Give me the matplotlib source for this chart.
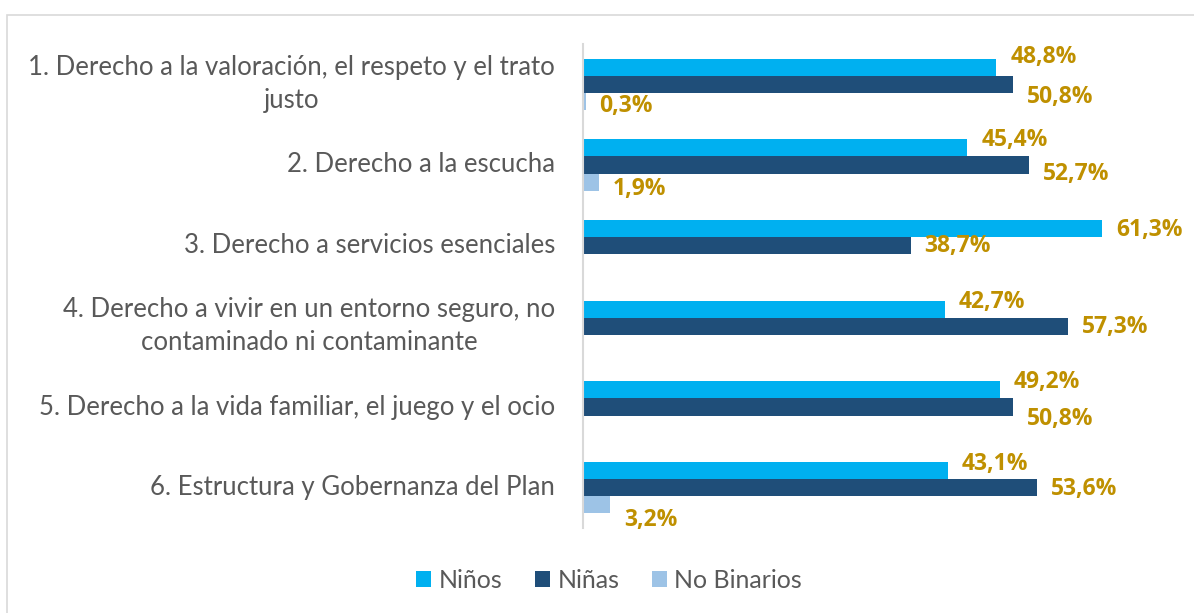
import matplotlib.pyplot as plt
import numpy as np
from matplotlib.patches import Rectangle

categories = [
    "1. Derecho a la valoración, el respeto y el trato\njusto",
    "2. Derecho a la escucha",
    "3. Derecho a servicios esenciales",
    "4. Derecho a vivir en un entorno seguro, no\ncontaminado ni contaminante",
    "5. Derecho a la vida familiar, el juego y el ocio",
    "6. Estructura y Gobernanza del Plan",
]
ninos = [48.8, 45.4, 61.3, 42.7, 49.2, 43.1]
ninas = [50.8, 52.7, 38.7, 57.3, 50.8, 53.6]
no_binarios = [0.3, 1.9, np.nan, np.nan, np.nan, 3.2]

series = [("Niños", ninos, "#00B0F0"),
          ("Niñas", ninas, "#1F4E79"),
          ("No Binarios", no_binarios, "#9DC3E6")]

# label placement: vertical nudge in pixels (down = +), one row per series
label_nudge = [
    [-10, -8, 1, -7, -8, -7],
    [13, 9, 0, 1, 12, 1],
    [5, 7, 0, 0, 0, 15],
]

plt.rcParams['font.family'] = ['Lato', 'DejaVu Sans']

fig = plt.figure(figsize=(11.94, 6.13), dpi=100)
ax = fig.add_axes([583 / 1194, 1 - 528 / 613, 597 / 1194, 484 / 613])

# light chart-area frame
fig.patches.append(Rectangle((7 / 1194, -0.1), 1.2, 1 - 15 / 613 + 0.1,
                             transform=fig.transFigure, fill=False,
                             edgecolor="#D9D9D9", linewidth=1.2))

y = np.arange(len(categories))
h = 0.211
label_color = "#BF9000"

for i, (name, vals, col) in enumerate(series):
    pos = y + (i - 1) * h
    ax.barh(pos, vals, height=h, color=col, label=name)
    for k, (p, v) in enumerate(zip(pos, vals)):
        if np.isnan(v):
            continue
        ax.annotate(f"{v:.1f}%".replace(".", ","), (v, p),
                    xytext=(10, -label_nudge[i][k] * 0.72),
                    textcoords="offset points",
                    ha="left", va="center", family=["Open Sans", "DejaVu Sans"],
                    fontsize=16.5, fontweight="bold", color=label_color)

ax.set_xlim(0, 70.5)
ax.set_ylim(len(categories) - 0.5, -0.5)
ax.set_yticks(y)
ax.set_yticklabels(categories, fontsize=18.5, color="#595959",
                   multialignment="center", linespacing=1.4)
ax.tick_params(axis="y", length=0, pad=20)
for t in ax.get_yticklabels():
    t.set_va("center")
ax.set_xticks([])
for s in ["top", "right", "bottom"]:
    ax.spines[s].set_visible(False)
ax.spines["left"].set_color("#D9D9D9")
ax.spines["left"].set_linewidth(1.5)

fig.legend(loc="center", bbox_to_anchor=(609 / 1194, 1 - 580 / 613), ncol=3,
           frameon=False, fontsize=18, labelcolor="#595959",
           handlelength=0.6, handleheight=0.6, handletextpad=0.3,
           columnspacing=1.3)

fig.savefig("out.png", dpi=100)
